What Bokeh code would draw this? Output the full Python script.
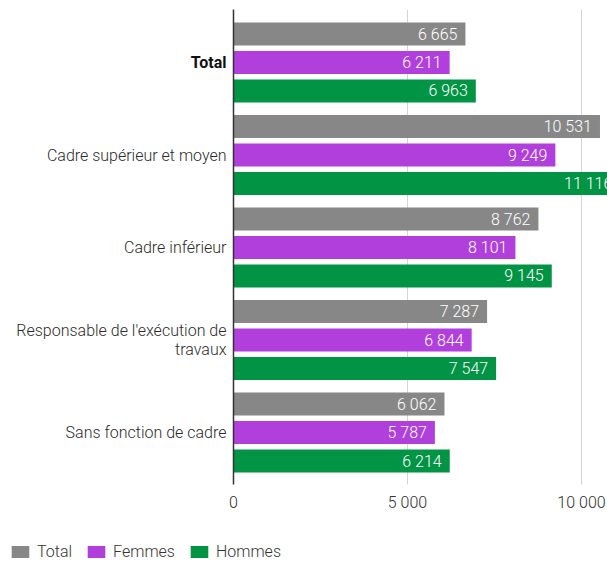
from bokeh.plotting import figure
from bokeh.models import (ColumnDataSource, Range1d, FixedTicker, Legend,
                          LegendItem)
from bokeh.transform import dodge
from bokeh.core.properties import value
from bokeh.embed import file_html
from bokeh.resources import INLINE

categories = ["Total", "Cadre supérieur et moyen", "Cadre inférieur",
              "Responsable de l'exécution de\ntravaux", "Sans fonction de cadre"]
total = [6665, 10531, 8762, 7287, 6062]
femmes = [6211, 9249, 8101, 6844, 5787]
hommes = [6963, 11116, 9145, 7547, 6214]
series_names = ["Total", "Femmes", "Hommes"]
colors = ["#878787", "#b03fdb", "#009444"]
x_ticks = [0, 5000, 10000]

LIGHT = "Roboto Light"
# extent of the bar area in category units (top, bottom)
Y_TOP, Y_BOTTOM = -0.573, 4.562
PX_PER_UNIT = 92.5

def fmt(v):
    return f"{v:,}".replace(",", " ")

idx = list(range(len(categories)))
src = ColumnDataSource(dict(
    y=idx, cat=categories,
    style=["bold" if c == "Total" else "normal" for c in categories],
    cfont=["Roboto" if c == "Total" else LIGHT for c in categories],
    ccol=["#111111" if c == "Total" else "#2b2b2b" for c in categories],
    total=total, femmes=femmes, hommes=hommes,
    total_l=[fmt(v) for v in total], femmes_l=[fmt(v) for v in femmes],
    hommes_l=[fmt(v) for v in hommes],
))

p = figure(width=607, height=561, output_backend="svg", toolbar_location=None,
           x_range=Range1d(-6695, 10747),
           y_range=Range1d(Y_BOTTOM + 77 / PX_PER_UNIT, Y_TOP - 9 / PX_PER_UNIT),
           min_border_left=0, min_border_top=0, min_border_right=0,
           min_border_bottom=0)
p.outline_line_color = None
p.background_fill_color = "white"
p.border_fill_color = "white"
p.xgrid.grid_line_color = None
p.ygrid.grid_line_color = None

# vertical grid lines at the non-zero ticks
grid_x = x_ticks[1:]
p.segment(x0=grid_x, x1=grid_x, y0=[Y_TOP] * len(grid_x), y1=[Y_BOTTOM] * len(grid_x),
          line_color="#d4d4d4", line_width=1)

offsets = [-0.308, 0.0, 0.308]
keys = ["total", "femmes", "hommes"]
renderers = []
for k, off, col in zip(keys, offsets, colors):
    r = p.hbar(y=dodge("y", off), right=k, left=0, height=0.249, source=src,
               fill_color=col, line_color=None)
    renderers.append(r)
    p.text(x=k, y=dodge("y", off), text=k + "_l", source=src,
           x_offset=-8, text_align="right", text_baseline="middle",
           text_color="white", text_font=value(LIGHT), text_font_size="16px")

# category labels (left of the value axis line)
p.text(x=0, y="y", text="cat", source=src, x_offset=-7,
       text_align="right", text_baseline="middle",
       text_font="cfont", text_font_style="style",
       text_font_size="16px", text_color="ccol", text_line_height=1.0)

# y axis: just the line at x = 0
p.yaxis.fixed_location = 0
p.yaxis.bounds = (Y_TOP, Y_BOTTOM)
p.yaxis.ticker = FixedTicker(ticks=[])
p.yaxis.axis_line_color = "#333333"
p.yaxis.axis_line_width = 1.5
p.yaxis.major_tick_line_color = None
p.yaxis.minor_tick_line_color = None

# x axis: tick labels under the bar area
p.xaxis.fixed_location = Y_BOTTOM
p.xaxis.ticker = FixedTicker(ticks=x_ticks)
p.xaxis.major_label_overrides = {t: fmt(t) for t in x_ticks}
p.xaxis.axis_line_color = None
p.xaxis.major_tick_line_color = None
p.xaxis.minor_tick_line_color = None
p.xaxis.major_label_standoff = 3
p.xaxis.major_label_text_font = LIGHT
p.xaxis.major_label_text_font_size = "16px"
p.xaxis.major_label_text_color = "#333333"

legend = Legend(items=[LegendItem(label=n, renderers=[r]) for n, r in zip(series_names, renderers)],
                orientation="horizontal", location=(9, 0),
                glyph_width=22, glyph_height=15, label_standoff=6, spacing=13,
                padding=0, margin=0, border_line_color=None,
                background_fill_alpha=0,
                label_text_font=LIGHT, label_text_font_size="16px",
                label_text_color="#333333")
p.add_layout(legend, "center")

open("out.html", "w").write(file_html(p, INLINE))
